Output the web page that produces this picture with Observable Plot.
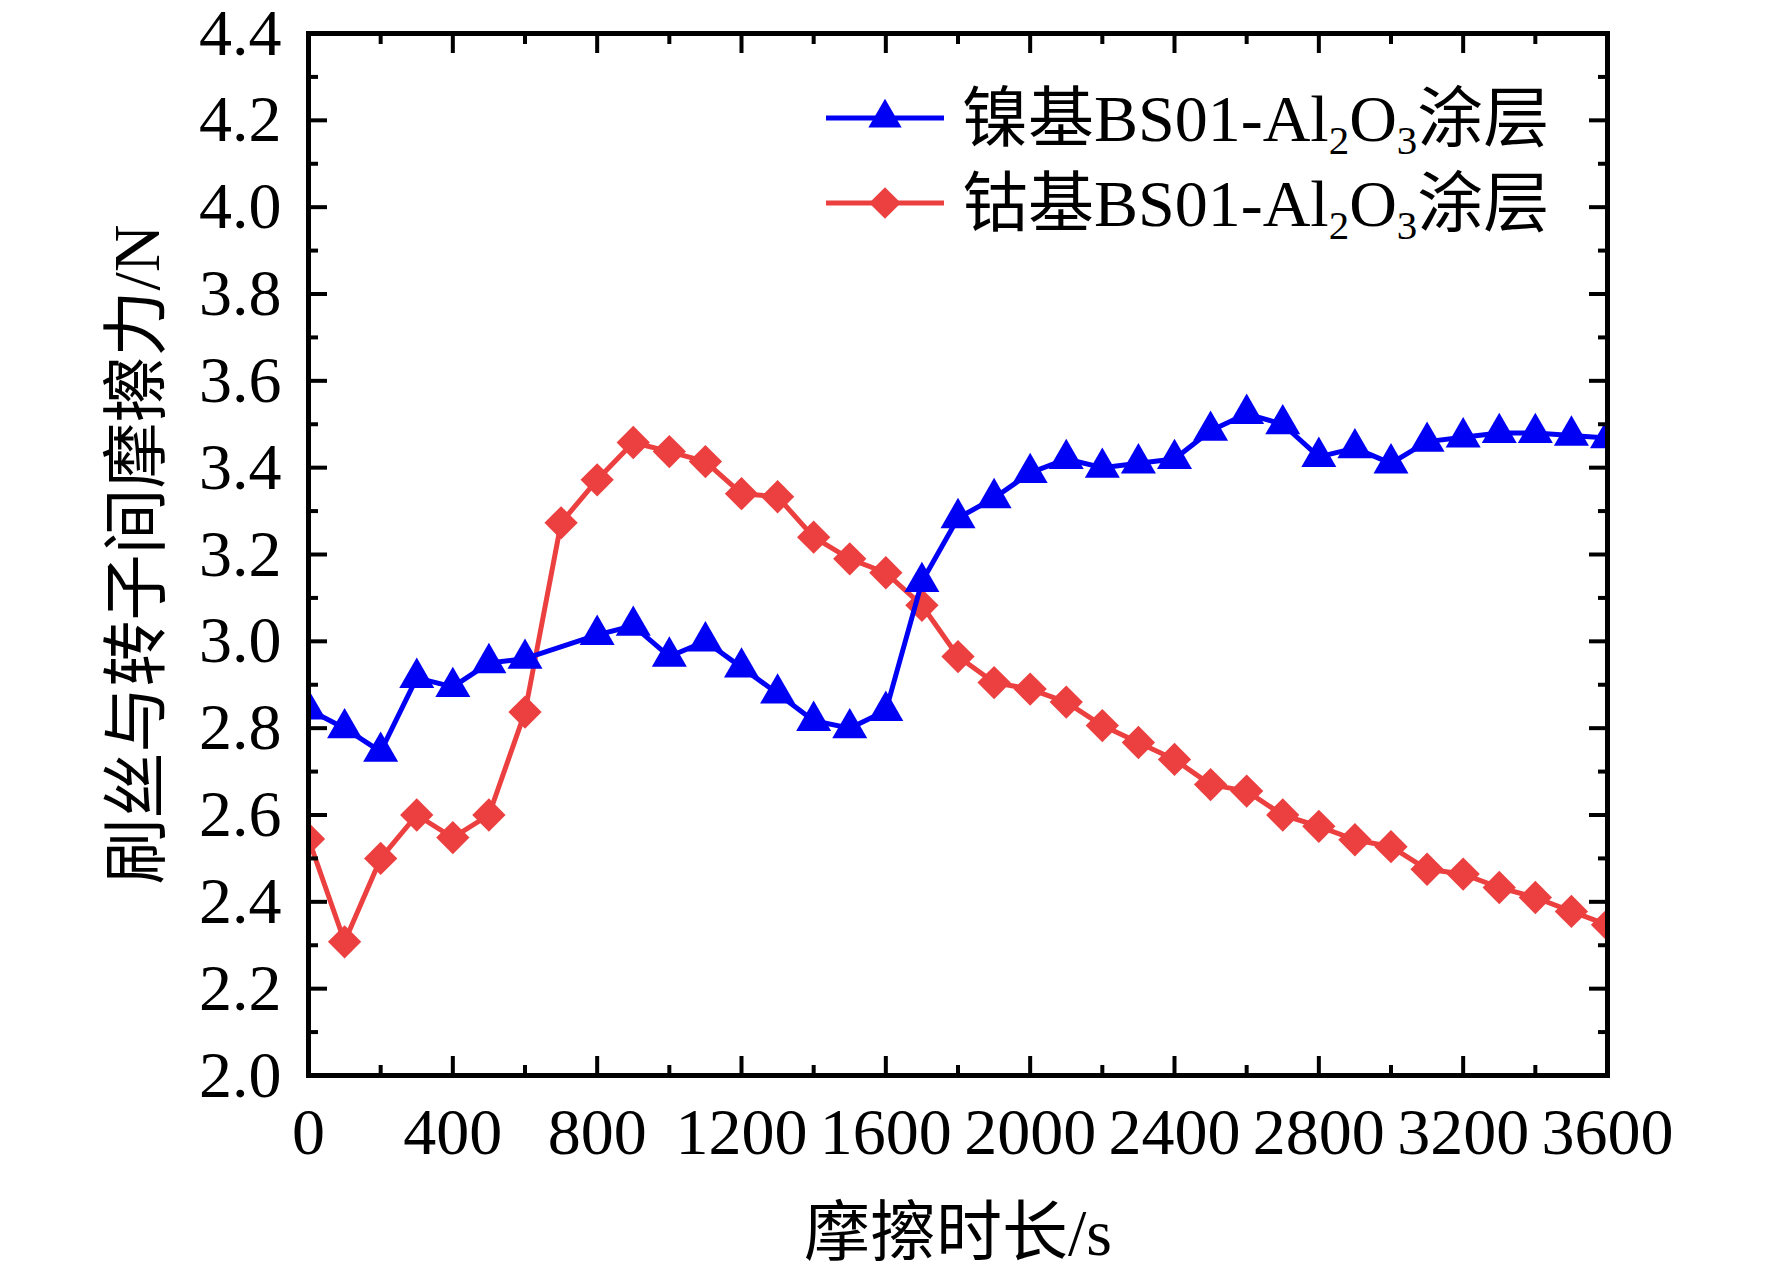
<!DOCTYPE html>
<html>
<head>
<meta charset="utf-8">
<script src="https://cdn.jsdelivr.net/npm/d3@7"></script>
<script src="https://cdn.jsdelivr.net/npm/@observablehq/plot@0.6"></script>
<style>
  html, body { margin: 0; padding: 0; background: #fff; }
  #chart { width: 1772px; height: 1277px; }
</style>
</head>
<body>
<div id="chart"></div>
<script>
// ---- data ----
const niTime = [0,100,200,300,400,500,600,800,900,1000,1100,1200,1300,1400,1500,1600,1700,1800,1900,2000,2100,2200,2300,2400,2500,2600,2700,2800,2900,3000,3100,3200,3300,3400,3500,3600];
const niForce = [2.843,2.80,2.746,2.916,2.895,2.95,2.96,3.015,3.036,2.965,3.00,2.94,2.88,2.817,2.80,2.84,3.137,3.284,3.33,3.388,3.42,3.40,3.41,3.42,3.485,3.524,3.50,3.425,3.445,3.41,3.46,3.47,3.48,3.48,3.474,3.468];
const coTime = [0,100,200,300,400,500,600,700,800,900,1000,1100,1200,1300,1400,1500,1600,1700,1800,1900,2000,2100,2200,2300,2400,2500,2600,2700,2800,2900,3000,3100,3200,3300,3400,3500,3600];
const coForce = [2.545,2.308,2.50,2.60,2.548,2.60,2.837,3.273,3.372,3.458,3.437,3.414,3.34,3.333,3.24,3.19,3.158,3.083,2.965,2.905,2.89,2.86,2.806,2.767,2.728,2.67,2.655,2.60,2.574,2.543,2.527,2.475,2.464,2.433,2.41,2.378,2.347];
const xMajorTicks = [0,400,800,1200,1600,2000,2400,2800,3200,3600];
const xMinorTicks = [200,600,1000,1400,1800,2200,2600,3000,3400];
const yMajorTicks = [2.0,2.2,2.4,2.6,2.8,3.0,3.2,3.4,3.6,3.8,4.0,4.2,4.4];
const yMinorTicks = [2.1,2.3,2.5,2.7,2.9,3.1,3.3,3.5,3.7,3.9,4.1,4.3];
const seriesNames = ["镍基BS01-Al", "钴基BS01-Al"];
const xLabel = "摩擦时长/s";
const yLabel = "刷丝与转子间摩擦力/N";
const blue = "#0000f5";
const red = "#ec4040";

const ni = niTime.map((t, i) => ({t, f: niForce[i]}));
const co = coTime.map((t, i) => ({t, f: coForce[i]}));

const W = 1772, H = 1277;
const mL = 308, mR = W - 1607, mT = 33, mB = H - 1075;
const fs = 66;
const major = 19, minor = 10, tw = 4;

const tickAxes = [];
for (const [ticks, len] of [[xMajorTicks, major], [xMinorTicks, minor]]) {
  tickAxes.push(Plot.axisX(ticks, {anchor: "bottom", tickSize: len, dy: -len, text: null, strokeWidth: tw}));
  tickAxes.push(Plot.axisX(ticks, {anchor: "top", tickSize: len, dy: len, text: null, strokeWidth: tw}));
}
for (const [ticks, len] of [[yMajorTicks, major], [yMinorTicks, minor]]) {
  tickAxes.push(Plot.axisY(ticks, {anchor: "left", tickSize: len, dx: len, text: null, strokeWidth: tw}));
  tickAxes.push(Plot.axisY(ticks, {anchor: "right", tickSize: len, dx: -len, text: null, strokeWidth: tw}));
}

const svg = Plot.plot({
  width: W, height: H,
  marginLeft: mL, marginRight: mR, marginTop: mT, marginBottom: mB,
  style: {fontFamily: "'Liberation Serif', 'Noto Sans CJK SC', serif", fontSize: fs + "px", background: "#fff", color: "#000", overflow: "visible"},
  x: {domain: [0, 3600], label: null},
  y: {domain: [2.0, 4.4], label: null},
  marks: [
    Plot.line(co, {x: "t", y: "f", stroke: red, strokeWidth: 5, clip: true}),
    Plot.dot(co, {x: "t", y: "f", symbol: "diamond2", fill: red, r: 15, clip: true}),
    Plot.line(ni, {x: "t", y: "f", stroke: blue, strokeWidth: 5, clip: true}),
    Plot.dot(ni, {x: "t", y: "f", symbol: "triangle", fill: blue, r: 13, clip: true}),
    ...tickAxes,
    Plot.axisX(xMajorTicks, {anchor: "bottom", tickSize: 0, tickPadding: 32, fontSize: fs, tickFormat: d => String(d)}),
    Plot.axisY(yMajorTicks, {anchor: "left", tickSize: 0, tickPadding: 27, fontSize: fs, tickFormat: d3.format(".1f")}),
    Plot.frame({stroke: "#000", strokeWidth: 5}),
    Plot.text([xLabel], {text: d => d, frameAnchor: "bottom", textAnchor: "middle", dy: 158, fontSize: fs, lineAnchor: "middle"}),
    Plot.text([yLabel], {text: d => d, frameAnchor: "left", textAnchor: "middle", dx: -171, rotate: -90, fontSize: fs, lineAnchor: "middle"})
  ]
});

// ---- legend (inside the frame, top right) ----
const lg = d3.select(svg).append("g").attr("class", "legend");
const rows = [
  {name: seriesNames[0], color: blue, symbol: d3.symbolTriangle, size: 480, y: 118},
  {name: seriesNames[1], color: red, symbol: d3.symbolDiamond2, size: 640, y: 203}
];
for (const r of rows) {
  lg.append("line").attr("x1", 826).attr("x2", 944).attr("y1", r.y).attr("y2", r.y)
    .attr("stroke", r.color).attr("stroke-width", 5);
  lg.append("path").attr("d", d3.symbol(r.symbol, r.size)()).attr("transform", `translate(885,${r.y})`)
    .attr("fill", r.color);
  const t = lg.append("text").attr("x", 962).attr("y", r.y).attr("dy", "0.35em")
    .attr("text-anchor", "start").attr("font-size", fs).attr("fill", "#000");
  t.append("tspan").text(r.name);
  t.append("tspan").attr("font-size", fs * 0.62).attr("dy", "0.32em").text("2");
  t.append("tspan").attr("dy", "-0.2em").text("O");
  t.append("tspan").attr("font-size", fs * 0.62).attr("dy", "0.32em").text("3");
  t.append("tspan").attr("dy", "-0.2em").text("涂层");
}

document.getElementById("chart").appendChild(svg);
</script>
</body>
</html>
